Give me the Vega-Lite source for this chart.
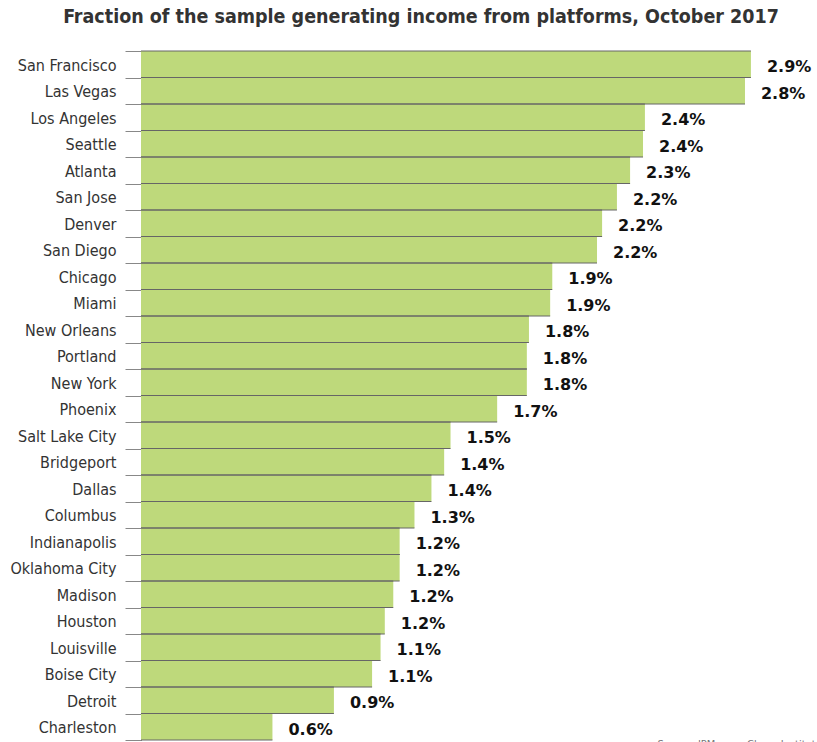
{
  "$schema": "https://vega.github.io/schema/vega-lite/v6.json",
  "autosize": "none",
  "width": 636,
  "height": 689,
  "padding": {"left": 141, "top": 51, "right": 40, "bottom": 2},
  "background": "white",
  "config": {"view": {"stroke": null}, "font": "DejaVu Sans Condensed, DejaVu Sans, sans-serif"},
  "title": {
    "text": "Fraction of the sample generating income from platforms, October 2017",
    "font": "DejaVu Sans Condensed, DejaVu Sans, sans-serif",
    "fontSize": 19.5,
    "fontWeight": "bold",
    "color": "#333333",
    "anchor": "middle",
    "dx": -38,
    "offset": 16
  },
  "data": {
    "values": [
      {"city": "San Francisco", "value": 2.877, "label": "2.9%"},
      {"city": "Las Vegas", "value": 2.849, "label": "2.8%"},
      {"city": "Los Angeles", "value": 2.377, "label": "2.4%"},
      {"city": "Seattle", "value": 2.368, "label": "2.4%"},
      {"city": "Atlanta", "value": 2.307, "label": "2.3%"},
      {"city": "San Jose", "value": 2.245, "label": "2.2%"},
      {"city": "Denver", "value": 2.175, "label": "2.2%"},
      {"city": "San Diego", "value": 2.151, "label": "2.2%"},
      {"city": "Chicago", "value": 1.94, "label": "1.9%"},
      {"city": "Miami", "value": 1.93, "label": "1.9%"},
      {"city": "New Orleans", "value": 1.83, "label": "1.8%"},
      {"city": "Portland", "value": 1.82, "label": "1.8%"},
      {"city": "New York", "value": 1.82, "label": "1.8%"},
      {"city": "Phoenix", "value": 1.68, "label": "1.7%"},
      {"city": "Salt Lake City", "value": 1.46, "label": "1.5%"},
      {"city": "Bridgeport", "value": 1.43, "label": "1.4%"},
      {"city": "Dallas", "value": 1.37, "label": "1.4%"},
      {"city": "Columbus", "value": 1.29, "label": "1.3%"},
      {"city": "Indianapolis", "value": 1.22, "label": "1.2%"},
      {"city": "Oklahoma City", "value": 1.22, "label": "1.2%"},
      {"city": "Madison", "value": 1.19, "label": "1.2%"},
      {"city": "Houston", "value": 1.15, "label": "1.2%"},
      {"city": "Louisville", "value": 1.13, "label": "1.1%"},
      {"city": "Boise City", "value": 1.09, "label": "1.1%"},
      {"city": "Detroit", "value": 0.91, "label": "0.9%"},
      {"city": "Charleston", "value": 0.62, "label": "0.6%"}
    ]
  },
  "layer": [
    {
      "mark": {"type": "bar", "color": "#bed97b"},
      "encoding": {
        "y": {
          "field": "city",
          "type": "nominal",
          "sort": null,
          "scale": {"paddingInner": 0, "paddingOuter": 0},
          "axis": {
            "title": null,
            "tickBand": "extent",
            "tickSize": 16,
            "tickColor": "#888888",
            "domainColor": "#555555",
            "labelFontSize": 16,
            "labelColor": "#333333",
            "labelPadding": 9,
            "labelOffset": 1
          }
        },
        "x": {
          "field": "value",
          "type": "quantitative",
          "scale": {"domain": [0, 3.0]},
          "axis": {
            "domain": false,
            "ticks": false,
            "labels": false,
            "grid": false,
            "title": "Source: JPMorgan Chase Institute",
            "titleAnchor": "start",
            "titleAlign": "left",
            "titleFontSize": 11,
            "titleFontWeight": "normal",
            "titleColor": "#777777",
            "titlePadding": -2,
            "titleX": 516
          }
        }
      }
    },
    {
      "mark": {"type": "rule", "color": "#666666", "strokeWidth": 1},
      "encoding": {
        "y": {"field": "city", "type": "nominal", "sort": null, "bandPosition": 0},
        "x": {"field": "value", "type": "quantitative"},
        "x2": {"datum": 0}
      }
    },
    {
      "mark": {"type": "rule", "color": "#666666", "strokeWidth": 1},
      "encoding": {
        "y": {"field": "city", "type": "nominal", "sort": null, "bandPosition": 1},
        "x": {"field": "value", "type": "quantitative"},
        "x2": {"datum": 0}
      }
    },
    {
      "mark": {"type": "text", "align": "left", "baseline": "middle", "dx": 16, "dy": 3, "font": "DejaVu Sans, sans-serif", "fontSize": 16, "fontWeight": "bold", "color": "#111111"},
      "encoding": {
        "y": {"field": "city", "type": "nominal", "sort": null},
        "x": {"field": "value", "type": "quantitative"},
        "text": {"field": "label"}
      }
    }
  ]
}
